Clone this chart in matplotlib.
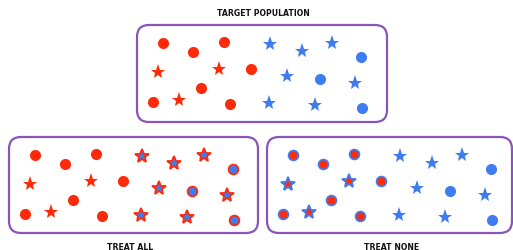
import matplotlib
matplotlib.use("Agg")
import matplotlib.pyplot as plt
from matplotlib.patches import FancyBboxPatch

RED = "#FF2A0A"
BLUE = "#3F7CEF"
PURPLE = "#8A55B8"

# point positions inside a panel (relative to panel's top-left corner, pixels)
red_circle_x = [26, 56, 87, 114, 64, 16, 93]
red_circle_y = [18, 27, 17, 44, 63, 77, 79]
red_star_x = [21, 82, 42]
red_star_y = [47, 44, 75]
blue_star_x = [133, 165, 195, 150, 218, 132, 178]
blue_star_y = [19, 26, 18, 51, 58, 78, 80]
blue_circle_x = [224, 183, 225]
blue_circle_y = [32, 54, 83]

panel_titles = ["TARGET POPULATION", "TREAT ALL", "TREAT NONE"]
panel_left = [137, 9, 267]
panel_top = [25, 137, 137]
panel_width = [250, 249, 245]
panel_height = [97, 96, 96]
title_x = [263, 130, 392]
title_y = [13, 247, 247]

fig = plt.figure(figsize=(5.13, 2.50), dpi=100)
ax = fig.add_axes([0, 0, 1, 1])
ax.set_xlim(0, 513)
ax.set_ylim(250, 0)
ax.axis("off")

for i in range(3):
    L, T, W, H = panel_left[i], panel_top[i], panel_width[i], panel_height[i]
    box = FancyBboxPatch((L + 12, T + 12), W - 24, H - 24,
                         boxstyle="round,pad=12", fc="white", ec=PURPLE, lw=1.6)
    ax.add_patch(box)
    ax.text(title_x[i], title_y[i], panel_titles[i], ha="center", va="center",
            fontsize=5.6, fontweight="heavy", family="DejaVu Sans", color="#111111")

    rcx = [L + x for x in red_circle_x]; rcy = [T + y for y in red_circle_y]
    rsx = [L + x for x in red_star_x]; rsy = [T + y for y in red_star_y]
    bsx = [L + x for x in blue_star_x]; bsy = [T + y for y in blue_star_y]
    bcx = [L + x for x in blue_circle_x]; bcy = [T + y for y in blue_circle_y]

    if i == 0:
        red_edge, blue_edge = RED, BLUE
        rew, bew = 0, 0
    elif i == 1:
        red_edge, blue_edge = RED, RED
        rew, bew = 0, 1.3
    else:
        red_edge, blue_edge = BLUE, BLUE
        rew, bew = 1.3, 0

    ax.plot(rcx, rcy, "o", ms=8.0 if rew == 0 else 7.0, mfc=RED, mec=red_edge, mew=rew, ls="none")
    ax.plot(rsx, rsy, "*", ms=11.0 if rew == 0 else 10.0, mfc=RED, mec=red_edge, mew=rew, ls="none")
    ax.plot(bsx, bsy, "*", ms=11.0 if bew == 0 else 10.0, mfc=BLUE, mec=blue_edge, mew=bew, ls="none")
    ax.plot(bcx, bcy, "o", ms=8.0 if bew == 0 else 7.0, mfc=BLUE, mec=blue_edge, mew=bew, ls="none")

fig.savefig("out.png", dpi=100)
